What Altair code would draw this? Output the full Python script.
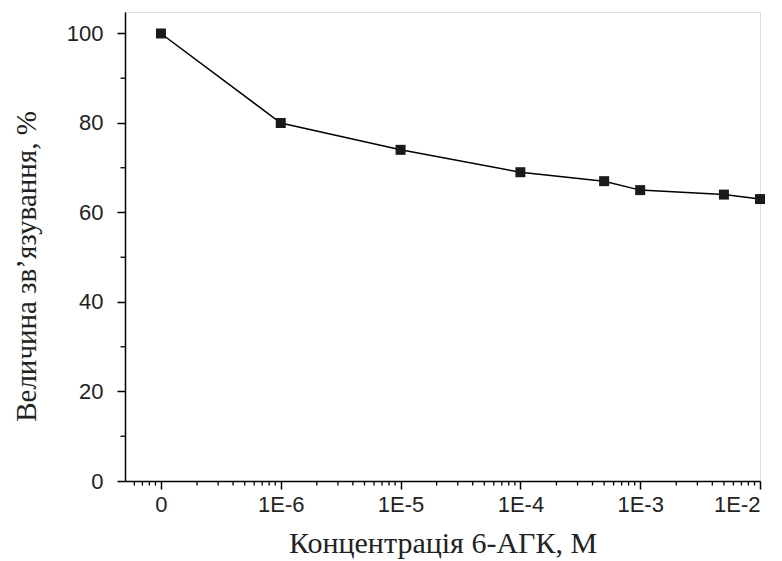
import altair as alt
import pandas as pd
import math

# Data (0 concentration plotted at the 1E-7 position on the log axis)
conc_labels = ["0", "1E-6", "1E-5", "1E-4", "5E-4", "1E-3", "5E-3", "1E-2"]
conc_log = [-7, -6, -5, -4, math.log10(5e-4), -3, math.log10(5e-3), -2]
binding = [100, 80, 74, 69, 67, 65, 64, 63]

major_x = [-7, -6, -5, -4, -3, -2]
y_ticks = [0, 20, 40, 60, 80, 100]
y_minor = [10, 30, 50, 70, 90]

df = pd.DataFrame({"x": conc_log, "y": binding, "label": conc_labels})

# minor log ticks for the axis decoration
minor = []
for d in range(-8, -2):
    for k in range(2, 10):
        v = d + math.log10(k)
        if -7.3 <= v < -2:
            minor.append(v)
minor_df = pd.DataFrame({"x": minor})
yminor_df = pd.DataFrame({"y": y_minor})

W, H = 635, 469
xscale = alt.Scale(domain=[-7.3, -2], nice=False, zero=False)
yscale = alt.Scale(domain=[0, 104.8], nice=False)

line = alt.Chart(df).mark_line(color="black", strokeWidth=1.5).encode(
    x=alt.X("x:Q", scale=xscale,
            axis=alt.Axis(values=major_x, title="Концентрація 6-АГК, М",
                          labelExpr="datum.value == -7 ? '0' : '1E' + datum.value",
                          grid=False, tickSize=8, tickWidth=1.5, domainWidth=1.5,
                          domainColor="black", tickColor="black",
                          labelFont="Liberation Sans", labelFontSize=22,
                          labelColor="#222", labelPadding=5,
                          titleFont="Liberation Serif", titleFontSize=30,
                          titleFontWeight="normal", titleColor="#222",
                          titleBaseline="alphabetic", titleY=71)),
    y=alt.Y("y:Q", scale=yscale,
            axis=alt.Axis(values=y_ticks, title="Величина зв’язування, %",
                          grid=False, tickSize=8, tickWidth=1.5, domainWidth=1.5,
                          domainColor="black", tickColor="black",
                          labelFont="Liberation Sans", labelFontSize=22,
                          labelColor="#222", labelPadding=14,
                          titleFont="Liberation Serif", titleFontSize=29,
                          titleFontWeight="normal", titleColor="#222",
                          titleBaseline="alphabetic", titleX=-90, titleY=254)),
)

points = alt.Chart(df).mark_square(size=100, color="#1a1a1a", opacity=1).encode(
    x=alt.X("x:Q", scale=xscale),
    y=alt.Y("y:Q", scale=yscale),
)

xminor = alt.Chart(minor_df).mark_rule(color="black", strokeWidth=1.3).encode(
    x=alt.X("x:Q", scale=xscale),
    y=alt.value(H),
    y2=alt.value(H + 4.5),
)

yminor = alt.Chart(yminor_df).mark_rule(color="black", strokeWidth=1.3).encode(
    y=alt.Y("y:Q", scale=yscale),
    x=alt.value(0),
    x2=alt.value(-4.5),
)

chart = alt.layer(line, points, xminor, yminor).properties(
    width=W, height=H,
    autosize=alt.AutoSizeParams(type="none"),
    padding={"left": 117, "top": 4, "right": 10, "bottom": 80},
).configure_view(stroke=None).configure(background="white")

chart.save("out.html", embed_options={"renderer": "svg", "actions": False})
